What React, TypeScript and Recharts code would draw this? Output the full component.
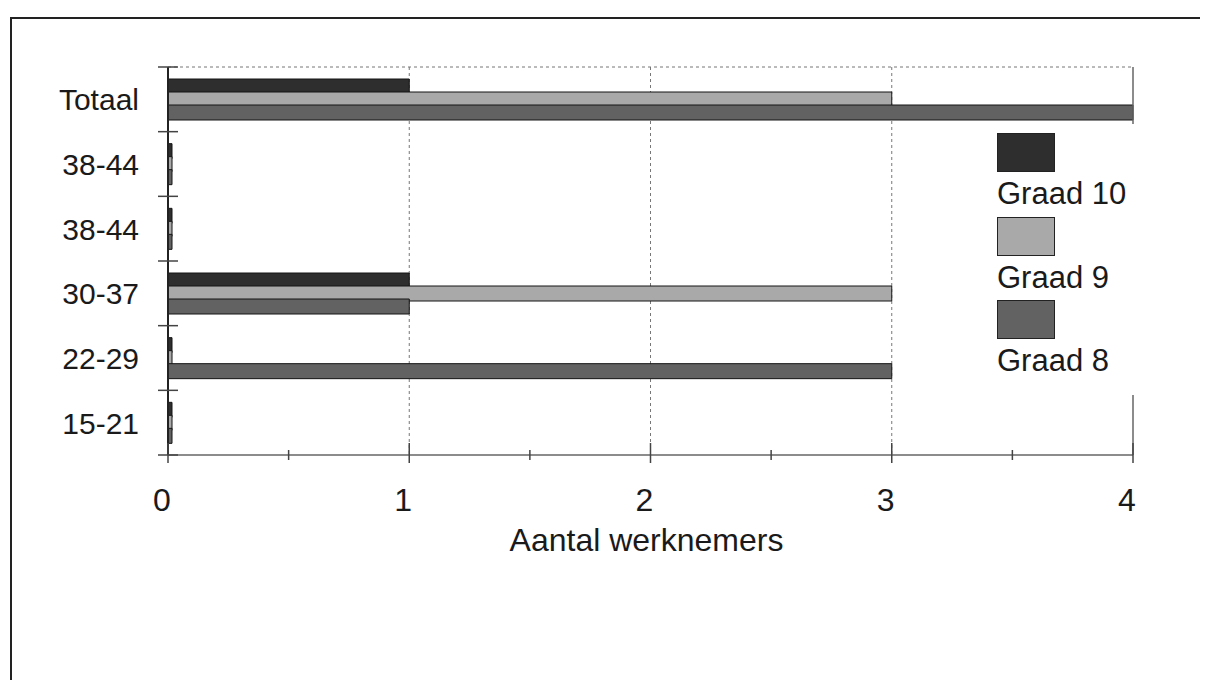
import React from "react";
import { BarChart, Bar, XAxis, YAxis, CartesianGrid, Legend, ReferenceLine, Label } from "recharts";

const categories = ["Totaal", "38-44", "38-44", "30-37", "22-29", "15-21"];
const graad10 = [1, 0, 0, 1, 0, 0];
const graad9 = [3, 0, 0, 3, 0, 0];
const graad8 = [4, 0, 0, 1, 3, 0];
const xTicks = [0, 0.5, 1, 1.5, 2, 2.5, 3, 3.5, 4];

const series = [
  { key: "g10", name: "Graad 10", color: "#2e2e2e" },
  { key: "g9", name: "Graad 9", color: "#a9a9a9" },
  { key: "g8", name: "Graad 8", color: "#626262" },
];

const data = categories.map((cat, i) => ({ cat, g10: graad10[i], g9: graad9[i], g8: graad8[i] }));

const W = 1200;
const H = 672;
const margin = { top: 59, right: 75, left: 0, bottom: 113 };
const X_AXIS_H = 112;
const plotH = H - margin.top - margin.bottom - X_AXIS_H;
const band = plotH / categories.length;
const font = "'Liberation Sans', Arial, sans-serif";

function YTick(props: any) {
  const { x, y, payload, index } = props;
  const last = index === categories.length - 1;
  return (
    <g>
      <line x1={x - 10} x2={x + 10} y1={y - band / 2} y2={y - band / 2} stroke="#444" strokeWidth={1.5} />
      {last && <line x1={x - 10} x2={x + 10} y1={y + band / 2} y2={y + band / 2} stroke="#444" strokeWidth={1.5} />}
      <text x={x - 29} y={y + 11} textAnchor="end" fontSize={30} fill="#1a1a1a" fontFamily={font}>
        {payload.value}
      </text>
    </g>
  );
}

function XTick(props: any) {
  const { x, y, payload } = props;
  const major = Number.isInteger(payload.value);
  return (
    <g>
      <line x1={x} x2={x} y1={major ? y - 12 : y - 5} y2={major ? y + 8 : y + 5} stroke="#444" strokeWidth={1.5} />
      {major && (
        <text x={x - 6} y={y + 56} textAnchor="middle" fontSize={32} fill="#1a1a1a" fontFamily={font}>
          {payload.value}
        </text>
      )}
    </g>
  );
}

function LegendBox() {
  return (
    <div style={{ background: "#fff", width: 160, height: 271, paddingTop: 9, paddingLeft: 12, boxSizing: "border-box" }}>
      {series.map((s) => (
        <div key={s.key} style={{ height: 83.5 }}>
          <div style={{ width: 58, height: 39, background: s.color, border: "1.5px solid #222", boxSizing: "border-box" }} />
          <div style={{ fontFamily: font, fontSize: 31, color: "#1a1a1a", lineHeight: "36px", marginTop: 4 }}>{s.name}</div>
        </div>
      ))}
    </div>
  );
}

export default function App() {
  return (
    <div style={{ position: "relative", width: W, height: H, overflow: "hidden", background: "#fff" }}>
      <div
        style={{
          position: "absolute",
          left: 2,
          top: 9,
          width: 1400,
          height: 900,
          borderLeft: "2px solid #222",
          borderTop: "2px solid #222",
        }}
      />
      <div style={{ position: "absolute", left: 0, top: 0 }}>
        <BarChart
          width={W}
          height={H}
          data={data}
          layout="vertical"
          margin={margin}
          barCategoryGap={12}
          barGap={-2}
        >
          <CartesianGrid
            stroke="#777"
            strokeDasharray="3 3"
            verticalCoordinatesGenerator={({ offset }: any) => [1, 2, 3].map((v) => offset.left + (offset.width * v) / 4)}
            horizontalCoordinatesGenerator={({ offset }: any) => [offset.top]}
          />
          <XAxis
            type="number"
            domain={[0, 4]}
            ticks={xTicks}
            interval={0}
            height={X_AXIS_H}
            axisLine={{ stroke: "#666", strokeWidth: 1.5 }}
            tickLine={false}
            tickSize={0}
            tickMargin={0}
            tick={<XTick />}
          >
            <Label
              value="Aantal werknemers"
              position="insideBottom"
              offset={16}
              fontSize={32}
              fill="#1a1a1a"
              fontFamily={font}
              dx={-4}
            />
          </XAxis>
          <YAxis
            type="category"
            dataKey="cat"
            width={160}
            axisLine={{ stroke: "#222", strokeWidth: 2 }}
            tickLine={false}
            tickSize={0}
            tickMargin={0}
            interval={0}
            tick={<YTick />}
          />
          <ReferenceLine x={4} stroke="#666" strokeWidth={1.5} />
          {series.map((s) => (
            <Bar
              key={s.key}
              dataKey={s.key}
              name={s.name}
              fill={s.color}
              stroke="#151515"
              strokeWidth={1}
              minPointSize={4}
              isAnimationActive={false}
            />
          ))}
          <Legend
            layout="vertical"
            align="center"
            verticalAlign="middle"
            content={<LegendBox />}
            wrapperStyle={{ position: "absolute", left: 977, top: 116, width: 160, height: 271 }}
          />
        </BarChart>
      </div>
    </div>
  );
}
